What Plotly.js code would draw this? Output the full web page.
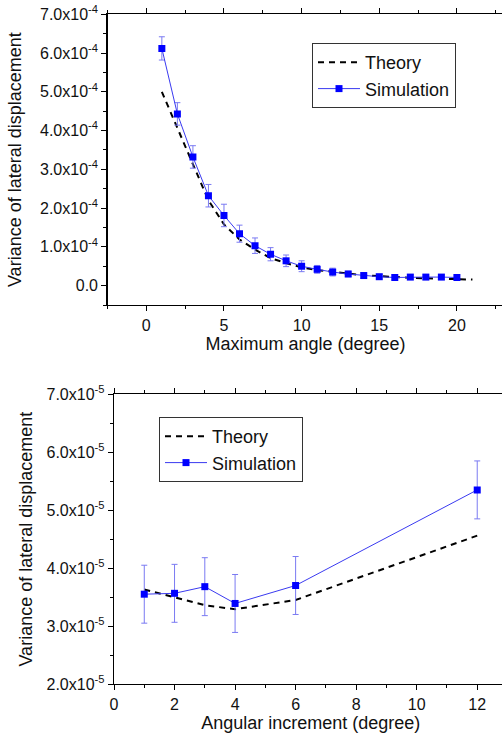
<!DOCTYPE html>
<html>
<head>
<meta charset="utf-8">
<script src="https://cdn.plot.ly/plotly-3.0.1.min.js"></script>
<style>
html,body{margin:0;padding:0;overflow:hidden;background:#fff;}
#chart{width:512px;height:734px;}
</style>
</head>
<body>
<div id="chart"></div>
<script>
// ---- Top panel data ----
const angleMax = [1,2,3,4,5,6,7,8,9,10,11,12,13,14,15,16,17,18,19,20];
const simTop = [6.12e-4,4.43e-4,3.32e-4,2.32e-4,1.81e-4,1.34e-4,1.03e-4,0.81e-4,0.64e-4,0.50e-4,0.42e-4,0.35e-4,0.30e-4,0.26e-4,0.23e-4,0.21e-4,0.22e-4,0.22e-4,0.22e-4,0.21e-4];
const simTopErr = [0.30e-4,0.29e-4,0.29e-4,0.29e-4,0.29e-4,0.22e-4,0.20e-4,0.17e-4,0.15e-4,0.14e-4,0.10e-4,0.10e-4,0.07e-4,0.07e-4,0.06e-4,0.06e-4,0.06e-4,0.06e-4,0.06e-4,0.06e-4];
const theoryTopX = [1,2,3,4,5,6,7,8,9,10,11,12,13,14,15,16,17,18,19,20,21];
const theoryTop = [5.0e-4,4.08e-4,3.14e-4,2.2e-4,1.58e-4,1.19e-4,0.93e-4,0.71e-4,0.58e-4,0.47e-4,0.40e-4,0.35e-4,0.31e-4,0.27e-4,0.24e-4,0.22e-4,0.20e-4,0.19e-4,0.18e-4,0.17e-4,0.155e-4];
const topYTickVals = [0,1e-4,2e-4,3e-4,4e-4,5e-4,6e-4,7e-4];
const topYTickText = ["0.0","1.0x10<sup>-4</sup>","2.0x10<sup>-4</sup>","3.0x10<sup>-4</sup>","4.0x10<sup>-4</sup>","5.0x10<sup>-4</sup>","6.0x10<sup>-4</sup>","7.0x10<sup>-4</sup>"];

// ---- Bottom panel data ----
const angleInc = [1,2,3,4,6,12];
const simBot = [3.55e-5,3.565e-5,3.68e-5,3.39e-5,3.70e-5,5.35e-5];
const simBotErr = [0.5e-5,0.5e-5,0.5e-5,0.5e-5,0.5e-5,0.5e-5];
const theoryBot = [3.63e-5,3.49e-5,3.36e-5,3.29e-5,3.45e-5,4.56e-5];
const botYTickVals = [2e-5,3e-5,4e-5,5e-5,6e-5,7e-5];
const botYTickText = ["2.0x10<sup>-5</sup>","3.0x10<sup>-5</sup>","4.0x10<sup>-5</sup>","5.0x10<sup>-5</sup>","6.0x10<sup>-5</sup>","7.0x10<sup>-5</sup>"];

const W = 512, H = 734;
const FONT = "Liberation Sans, Arial, sans-serif";
const lineBlue = "#3a3af0";
const errBlue = "#7a7af2";
const markBlue = "#0000ff";

const traces = [
  {x: theoryTopX, y: theoryTop, type:'scatter', mode:'lines', name:'Theory',
   line:{color:'#000', width:2, dash:'6px,5px'}, xaxis:'x', yaxis:'y', legend:'legend'},
  {x: angleMax, y: simTop, type:'scatter', mode:'lines+markers', name:'Simulation',
   line:{color:lineBlue, width:1}, marker:{symbol:'square', size:7, color:markBlue},
   error_y:{type:'data', array:simTopErr, visible:true, color:errBlue, thickness:1, width:3},
   xaxis:'x', yaxis:'y', legend:'legend'},
  {x: angleInc, y: theoryBot, type:'scatter', mode:'lines', name:'Theory',
   line:{color:'#000', width:2, dash:'6px,5px'}, xaxis:'x2', yaxis:'y2', legend:'legend2'},
  {x: angleInc, y: simBot, type:'scatter', mode:'lines+markers', name:'Simulation',
   line:{color:lineBlue, width:1}, marker:{symbol:'square', size:7, color:markBlue},
   error_y:{type:'data', array:simBotErr, visible:true, color:errBlue, thickness:1, width:3},
   xaxis:'x2', yaxis:'y2', legend:'legend2'}
];

const axisCommon = {
  showline:true, linecolor:'#000', linewidth:1.3, mirror:'ticks',
  ticks:'outside', ticklen:5, tickwidth:1, tickcolor:'#000',
  showgrid:false, zeroline:false,
  tickfont:{family:FONT, size:16, color:'#111'}
};
const titleFont = {family:FONT, size:18, color:'#111'};

const layout = {
  width: W, height: H,
  margin:{l:0, r:0, t:0, b:0},
  paper_bgcolor:'#fff', plot_bgcolor:'#fff',
  font:{family:FONT, color:'#111'},
  showlegend:true,
  xaxis: Object.assign({}, axisCommon, {
    domain:[107.5/W, 503.5/W], anchor:'y', range:[-2.5, 23],
    tickmode:'linear', tick0:0, dtick:5,
    minor:{tickmode:'linear', tick0:0, dtick:2.5, ticklen:3, ticks:'outside', tickcolor:'#000'},
    title:{text:'Maximum angle (degree)', font:titleFont, standoff:5}
  }),
  yaxis: Object.assign({}, axisCommon, {
    domain:[(H-305)/H, (H-14.3)/H], anchor:'x', range:[-0.5e-4, 7e-4],
    tickmode:'array', tickvals: topYTickVals, ticktext: topYTickText,
    minor:{tickmode:'linear', tick0:0, dtick:0.5e-4, ticklen:3, ticks:'outside', tickcolor:'#000'},
    title:{text:'Variance of lateral displacement', font:titleFont, standoff:13}
  }),
  xaxis2: Object.assign({}, axisCommon, {
    domain:[114/W, 507.5/W], anchor:'y2', range:[0, 13],
    tickmode:'linear', tick0:0, dtick:2,
    minor:{tickmode:'linear', tick0:0, dtick:1, ticklen:3, ticks:'outside', tickcolor:'#000'},
    title:{text:'Angular increment (degree)', font:titleFont, standoff:5}
  }),
  yaxis2: Object.assign({}, axisCommon, {
    domain:[(H-684)/H, (H-394.3)/H], anchor:'x2', range:[2e-5, 7e-5],
    tickmode:'array', tickvals: botYTickVals, ticktext: botYTickText,
    minor:{tickmode:'linear', tick0:0, dtick:0.5e-5, ticklen:3, ticks:'outside', tickcolor:'#000'},
    title:{text:'Variance of lateral displacement', font:titleFont, standoff:9}
  }),
  legend:{x:312/W, y:(H-43)/H, xanchor:'left', yanchor:'top',
    bordercolor:'#333', borderwidth:1, bgcolor:'#fff', itemwidth:42,
    font:{family:FONT, size:18, color:'#111'}, tracegroupgap:0},
  legend2:{x:159/W, y:(H-417)/H, xanchor:'left', yanchor:'top',
    bordercolor:'#333', borderwidth:1, bgcolor:'#fff', itemwidth:42,
    font:{family:FONT, size:18, color:'#111'}, tracegroupgap:0}
};

Plotly.newPlot('chart', traces, layout, {displayModeBar:false, staticPlot:true});
</script>
</body>
</html>
